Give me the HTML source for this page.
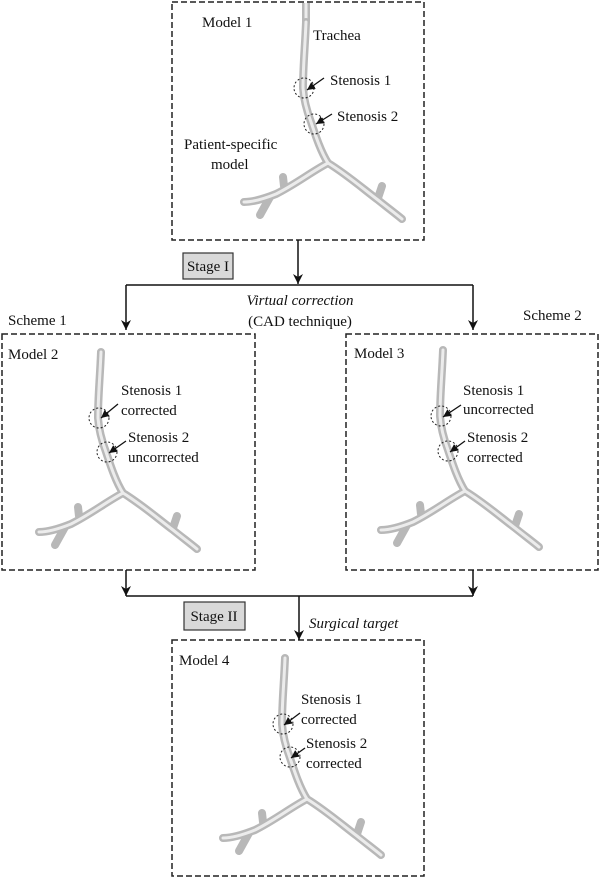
<!DOCTYPE html>
<html><head><meta charset="utf-8"><style>
html,body{margin:0;padding:0;background:#fff;}
svg text{font-family:"Liberation Serif",serif;font-size:15px;fill:#111;}
</style></head><body>
<svg width="600" height="879" viewBox="0 0 600 879" xmlns="http://www.w3.org/2000/svg">
<defs>
<marker id="ah" markerWidth="12" markerHeight="12" refX="10" refY="5" orient="auto" markerUnits="userSpaceOnUse">
<path d="M0,0 L10,5 L0,10 L3,5 Z" fill="#111"/></marker>
<marker id="sa" markerWidth="10" markerHeight="10" refX="8" refY="4" orient="auto" markerUnits="userSpaceOnUse">
<path d="M0,0 L8,4 L0,8 Z" fill="#111"/></marker>
<g id="tr">
<g fill="none" stroke-linecap="round" stroke-linejoin="round">
<g stroke="#b8b8b8" stroke-width="8">
<path d="M0,0 C-1,25 -3,45 -3,66 C-2,80 2,92 5,100 C10,115 15,130 22,141"/>
<path d="M22,141 C5,150 -10,162 -30,172 C-45,178 -55,180 -62,180"/>
<path d="M-36,175 L-46,193"/>
<path d="M-22,164 L-23,155"/>
<path d="M22,141 C40,152 55,165 72,178 C82,186 90,192 96,197"/>
<path d="M72,176 L76,164"/>
</g>
<g stroke="#ececec" stroke-width="3">
<path d="M0,0 C-1,25 -3,45 -3,66 C-2,80 2,92 5,100 C10,115 15,130 22,141"/>
<path d="M22,141 C5,150 -10,162 -30,172 C-45,178 -55,180 -62,180"/>
<path d="M22,141 C40,152 55,165 72,178 C82,186 90,192 96,197"/>
</g>
</g>
</g>
</defs>
<g fill="none" stroke="#222" stroke-width="1.5" stroke-dasharray="6,3">
<rect x="172" y="2" width="252" height="238"/>
<rect x="2" y="334" width="253" height="236"/>
<rect x="346" y="334" width="252" height="236"/>
<rect x="172" y="640" width="252" height="236"/>
</g>
<line x1="306" y1="3" x2="306" y2="22" stroke="#b8b8b8" stroke-width="8" stroke-linecap="butt"/>
<line x1="306" y1="3" x2="306" y2="26" stroke="#ececec" stroke-width="3" stroke-linecap="butt"/>
<use href="#tr" transform="translate(306,22)"/>
<use href="#tr" transform="translate(101,352)"/>
<use href="#tr" transform="translate(443,350)"/>
<use href="#tr" transform="translate(285,658)"/>
<g fill="none" stroke="#222" stroke-width="1" stroke-dasharray="2,2">
<circle cx="304" cy="88" r="10"/><circle cx="314" cy="124" r="10"/>
<circle cx="99" cy="418" r="10"/><circle cx="107" cy="452" r="10"/>
<circle cx="441" cy="416" r="10"/><circle cx="448" cy="451" r="10"/>
<circle cx="283" cy="724" r="10"/><circle cx="290" cy="757" r="10"/>
</g>
<g stroke="#111" stroke-width="1.3" marker-end="url(#sa)">
<line x1="324" y1="78" x2="307" y2="90"/><line x1="332" y1="114" x2="316" y2="124"/>
<line x1="118" y1="404" x2="101" y2="418"/><line x1="126" y1="441" x2="109" y2="453"/>
<line x1="461" y1="405" x2="443" y2="417"/><line x1="465" y1="441" x2="450" y2="452"/>
<line x1="300" y1="713" x2="284" y2="725"/><line x1="305" y1="748" x2="291" y2="758"/>
</g>
<g stroke="#111" stroke-width="1.5" fill="none">
<line x1="298" y1="240" x2="298" y2="284" marker-end="url(#ah)"/>
<line x1="126" y1="285" x2="473" y2="285"/>
<line x1="126" y1="285" x2="126" y2="330" marker-end="url(#ah)"/>
<line x1="473" y1="285" x2="473" y2="330" marker-end="url(#ah)"/>
<line x1="126" y1="570" x2="126" y2="596" marker-end="url(#ah)"/>
<line x1="473" y1="570" x2="473" y2="596" marker-end="url(#ah)"/>
<line x1="126" y1="596" x2="473" y2="596"/>
<line x1="299" y1="596" x2="299" y2="640" marker-end="url(#ah)"/>
</g>
<rect x="183" y="253" width="50" height="26" fill="#d9d9d9" stroke="#333" stroke-width="1.2"/>
<text x="208" y="271" text-anchor="middle">Stage I</text>
<rect x="184" y="602" width="61" height="28" fill="#d9d9d9" stroke="#333" stroke-width="1.2"/>
<text x="214" y="621" text-anchor="middle">Stage II</text>
<text x="202" y="27">Model 1</text>
<text x="313" y="40">Trachea</text>
<text x="330" y="85">Stenosis 1</text>
<text x="337" y="121">Stenosis 2</text>
<text x="184" y="149">Patient-specific</text>
<text x="211" y="169">model</text>
<text x="300" y="305" text-anchor="middle" font-style="italic">Virtual correction</text>
<text x="300" y="326" text-anchor="middle">(CAD technique)</text>
<text x="8" y="325">Scheme 1</text>
<text x="523" y="320">Scheme 2</text>
<text x="8" y="359">Model 2</text>
<text x="121" y="395">Stenosis 1</text>
<text x="121" y="415">corrected</text>
<text x="128" y="442">Stenosis 2</text>
<text x="128" y="462">uncorrected</text>
<text x="354" y="358">Model 3</text>
<text x="463" y="395">Stenosis 1</text>
<text x="463" y="414">uncorrected</text>
<text x="467" y="442">Stenosis 2</text>
<text x="467" y="462">corrected</text>
<text x="309" y="628" font-style="italic">Surgical target</text>
<text x="179" y="665">Model 4</text>
<text x="301" y="704">Stenosis 1</text>
<text x="301" y="724">corrected</text>
<text x="306" y="748">Stenosis 2</text>
<text x="306" y="768">corrected</text>
</svg>
</body></html>
